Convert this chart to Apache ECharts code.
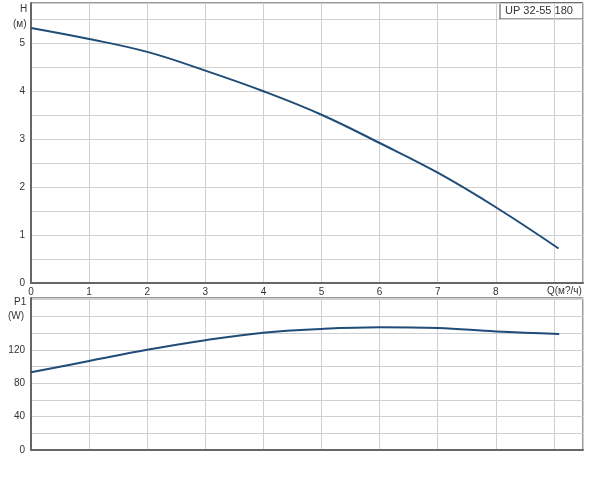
<!DOCTYPE html>
<html><head><meta charset="utf-8">
<script src="https://cdn.jsdelivr.net/npm/echarts@6/dist/echarts.min.js"></script>
<style>html,body{margin:0;padding:0;background:#fff}#c{width:600px;height:483px}</style>
</head><body><div id="c"></div>
<script>
const flowH = [0, 1, 2, 3, 4, 5, 6, 7, 8, 9.08];
const head = [5.32, 5.09, 4.82, 4.43, 4.0, 3.51, 2.92, 2.30, 1.58, 0.72];
const flowP = [0, 1, 2, 3, 4, 5, 6, 7, 8, 9.09];
const power = [93, 106.5, 120, 131.5, 140.5, 145, 147, 146, 142, 139];
const xTicks = [0, 1, 2, 3, 4, 5, 6, 7, 8];
const hTicks = [0, 1, 2, 3, 4, 5];
const pTicks = [0, 40, 80, 120];
const title = 'UP 32-55 180';

const chart = echarts.init(document.getElementById('c'));
const font = 'Liberation Sans, Arial, sans-serif';
const lineCol = '#1f4d78';
const gridCol = '#cfcfcf';
const axisCol = '#666';
const xAxisBase = {
  type: 'value', min: 0, max: 9.5, interval: 1,
  axisLine: { show: true, onZero: false, lineStyle: { color: axisCol, width: 2 } },
  axisTick: { show: false },
  splitLine: { show: true, lineStyle: { color: gridCol, width: 1 } }
};
chart.setOption({
  animation: false,
  grid: [
    { left: 31, right: 17, top: 3, bottom: 200, show: true, borderColor: '#333', borderWidth: 1 },
    { left: 31, right: 17, top: 298, bottom: 33, show: true, borderColor: '#333', borderWidth: 1 }
  ],
  xAxis: [
    Object.assign({}, xAxisBase, { gridIndex: 0,
      axisLabel: { show: true, margin: 4, color: '#333', fontSize: 10, fontFamily: font,
        formatter: v => xTicks.includes(v) ? String(v) : '' } }),
    Object.assign({}, xAxisBase, { gridIndex: 1, axisLabel: { show: false } })
  ],
  yAxis: [
    { type: 'value', gridIndex: 0, min: 0, max: 5.84, interval: 0.5,
      axisLine: { show: true, lineStyle: { color: axisCol, width: 2 } },
      axisTick: { show: false },
      splitLine: { show: true, lineStyle: { color: gridCol, width: 1 } },
      axisLabel: { margin: 6, color: '#333', fontSize: 10, fontFamily: font,
        formatter: v => hTicks.includes(v) ? String(v) : '' } },
    { type: 'value', gridIndex: 1, min: 0, max: 182, interval: 20,
      axisLine: { show: true, lineStyle: { color: axisCol, width: 2 } },
      axisTick: { show: false },
      splitLine: { show: true, lineStyle: { color: gridCol, width: 1 } },
      axisLabel: { margin: 6, color: '#333', fontSize: 10, fontFamily: font,
        formatter: v => pTicks.includes(v) ? String(v) : '' } }
  ],
  series: [
    { type: 'line', xAxisIndex: 0, yAxisIndex: 0, smooth: 0.4, showSymbol: false,
      lineStyle: { color: lineCol, width: 2 }, data: flowH.map((q, i) => [q, head[i]]) },
    { type: 'line', xAxisIndex: 1, yAxisIndex: 1, smooth: 0.4, showSymbol: false,
      lineStyle: { color: lineCol, width: 2 }, data: flowP.map((q, i) => [q, power[i]]) }
  ],
  graphic: [
    { type: 'text', left: 20, top: 4, style: { text: 'H', font: '10px ' + font, fill: '#333' } },
    { type: 'text', left: 13, top: 19, style: { text: '(м)', font: '10px ' + font, fill: '#333' } },
    { type: 'text', left: 14, top: 297, style: { text: 'P1', font: '10px ' + font, fill: '#333' } },
    { type: 'text', left: 8, top: 311, style: { text: '(W)', font: '10px ' + font, fill: '#333' } },
    { type: 'text', left: 547, top: 286, style: { text: 'Q(м?/ч)', font: '10px ' + font, fill: '#333' } },
    { type: 'rect', shape: { x: 500, y: 3, width: 83, height: 16 },
      style: { fill: '#fff', stroke: '#444', lineWidth: 1 } },
    { type: 'text', left: 505, top: 5, style: { text: title, font: '11px ' + font, fill: '#333' } }
  ]
});
</script></body></html>
